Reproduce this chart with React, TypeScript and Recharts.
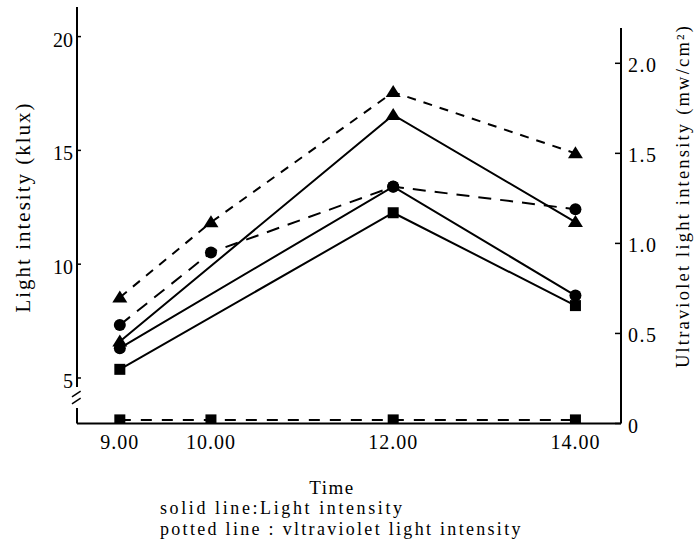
import React from 'react';
import { LineChart, Line, XAxis, YAxis, ReferenceLine } from 'recharts';

// Time categories (hours)
const times = [9, 10, 12, 14];
const timeLabels = ['9.00', '10.00', '12.00', '14.00'];
const lightTimes = [9, 12, 14];

// Light intensity (klux) — solid lines, left axis
const lightTriangle = [6.6, 16.56, 11.85];
const lightCircle = [6.31, 13.41, 8.62];
const lightSquare = [5.38, 12.26, 8.18];

// Ultraviolet light intensity (mw/cm2) — dashed lines, right axis
const uvTriangle = [0.7, 1.117, 1.84, 1.5];
const uvCircle = [0.547, 0.95, 1.315, 1.19];
const uvSquare = [0.02, 0.02, 0.02, 0.02];

const leftTicks = [5, 10, 15, 20];
const rightTicks = [0, 0.5, 1.0, 1.5, 2.0];
const rightTickLabels = ['0', '0.5', '1.0', '1.5', '2.0'];

const X_DOMAIN: [number, number] = [8.53, 14.5];
const LEFT_DOMAIN: [number, number] = [3, 21.3];
const RIGHT_DOMAIN: [number, number] = [0, 2.3126];

const FONT = '"Liberation Serif", "Times New Roman", serif';

const toData = (xs: number[], vs: number[]) => xs.map((t, i) => ({ t, v: vs[i] }));

const makeDot = (shape: 'triangle' | 'circle' | 'square') => (props: any) => {
  const { cx, cy, index } = props;
  if (cx == null || cy == null) return <g key={`n${index}`} />;
  if (shape === 'triangle') {
    return (
      <polygon
        key={`t${index}`}
        points={`${cx},${cy - 7} ${cx - 7.5},${cy + 5} ${cx + 7.5},${cy + 5}`}
        fill="#000"
      />
    );
  }
  if (shape === 'square') {
    return <rect key={`s${index}`} x={cx - 5.5} y={cy - 5.5} width={11} height={11} fill="#000" />;
  }
  return <circle key={`c${index}`} cx={cx} cy={cy} r={6} fill="#000" />;
};

const XTick = (props: any) => {
  const { x, y, payload } = props;
  const idx = times.indexOf(payload.value);
  return (
    <text x={x} y={y + 25} textAnchor="middle" fontFamily={FONT} fontSize={20} style={{ letterSpacing: '1px' }} fill="#000">
      {idx >= 0 ? timeLabels[idx] : payload.value}
    </text>
  );
};

const LeftTick = (props: any) => {
  const { x, y, payload } = props;
  return (
    <g>
      <line x1={x} y1={y} x2={x + 4} y2={y} stroke="#000" strokeWidth={1.5} />
      <text x={x - 4} y={y + 10} textAnchor="end" fontFamily={FONT} fontSize={20} fill="#000">
        {payload.value}
      </text>
    </g>
  );
};

const RightTick = (props: any) => {
  const { x, y, payload } = props;
  const idx = rightTicks.indexOf(payload.value);
  return (
    <g>
      <line x1={x - 6} y1={y} x2={x} y2={y} stroke="#000" strokeWidth={1.5} />
      <text x={x + 7} y={y + 9} textAnchor="start" fontFamily={FONT} fontSize={20} style={{ letterSpacing: '1.5px' }} fill="#000">
        {idx >= 0 ? rightTickLabels[idx] : payload.value}
      </text>
    </g>
  );
};

export default function App() {
  const lineProps = {
    type: 'linear' as const,
    dataKey: 'v',
    stroke: '#000',
    strokeWidth: 2,
    activeDot: false as const,
    isAnimationActive: false,
  };
  return (
    <div style={{ position: 'absolute', left: 0, top: 0, width: 694, height: 545, background: '#fff' }}>
      <LineChart width={694} height={545} margin={{ top: 7, right: 3, bottom: 91.5, left: 7 }}>
        <XAxis
          xAxisId={0}
          dataKey="t"
          type="number"
          domain={X_DOMAIN}
          ticks={times}
          allowDataOverflow
          tickLine={false}
          tickSize={0}
          tickMargin={0}
          height={30}
          axisLine={{ stroke: '#000', strokeWidth: 2 }}
          tick={<XTick />}
        />
        <YAxis
          yAxisId="left"
          orientation="left"
          type="number"
          domain={LEFT_DOMAIN}
          ticks={leftTicks}
          allowDataOverflow
          width={70}
          axisLine={false}
          tickLine={false}
          tickSize={0}
          tickMargin={0}
          tick={<LeftTick />}
        />
        <YAxis
          yAxisId="right"
          orientation="right"
          type="number"
          domain={RIGHT_DOMAIN}
          ticks={rightTicks}
          allowDataOverflow
          width={70}
          axisLine={false}
          tickLine={false}
          tickSize={0}
          tickMargin={0}
          tick={<RightTick />}
        />
        {/* Broken left axis */}
        <ReferenceLine
          yAxisId="left"
          ifOverflow="visible"
          stroke="#000"
          strokeWidth={2}
          segment={[{ x: 8.53, y: 21.3 }, { x: 8.53, y: 4.6 }]}
        />
        <ReferenceLine
          yAxisId="left"
          ifOverflow="visible"
          stroke="#000"
          strokeWidth={2}
          segment={[{ x: 8.53, y: 3.68 }, { x: 8.53, y: 3 }]}
        />
        <ReferenceLine
          yAxisId="left"
          ifOverflow="visible"
          stroke="#000"
          strokeWidth={1.5}
          segment={[{ x: 8.475, y: 4.17 }, { x: 8.57, y: 4.42 }]}
        />
        <ReferenceLine
          yAxisId="left"
          ifOverflow="visible"
          stroke="#000"
          strokeWidth={1.5}
          segment={[{ x: 8.475, y: 3.86 }, { x: 8.57, y: 4.11 }]}
        />
        {/* Right axis line */}
        <ReferenceLine
          yAxisId="right"
          ifOverflow="visible"
          stroke="#000"
          strokeWidth={2}
          segment={[{ x: 14.5, y: 0 }, { x: 14.5, y: 2.196 }]}
        />

        <Line {...lineProps} yAxisId="left" data={toData(lightTimes, lightTriangle)} dot={makeDot('triangle')} />
        <Line {...lineProps} yAxisId="left" data={toData(lightTimes, lightCircle)} dot={makeDot('circle')} />
        <Line {...lineProps} yAxisId="left" data={toData(lightTimes, lightSquare)} dot={makeDot('square')} />

        <Line {...lineProps} yAxisId="right" strokeDasharray="9 8" data={toData(times, uvTriangle)} dot={makeDot('triangle')} />
        <Line {...lineProps} yAxisId="right" strokeDasharray="13 9" data={toData(times, uvCircle)} dot={makeDot('circle')} />
        <Line {...lineProps} yAxisId="right" strokeDasharray="11 10" data={toData(times, uvSquare)} dot={makeDot('square')} />
      </LineChart>
      <svg
        width={694}
        height={545}
        style={{ position: 'absolute', left: 0, top: 0, pointerEvents: 'none' }}
      >
        <text
          x={23}
          y={207}
          transform="rotate(-90 23 207)"
          textAnchor="middle"
          dominantBaseline="central"
          fontFamily={FONT}
          fontSize={21}
          style={{ letterSpacing: '2px' }}
          fill="#000"
        >
          Light intesity (klux)
        </text>
        <text
          x={683}
          y={196}
          transform="rotate(-90 683 196)"
          textAnchor="middle"
          dominantBaseline="central"
          fontFamily={FONT}
          fontSize={18.5}
          style={{ letterSpacing: '2.2px' }}
          fill="#000"
        >
          Ultraviolet light intensity (mw/cm²)
        </text>
        <text x={332} y={494} textAnchor="middle" fontFamily={FONT} fontSize={19} style={{ letterSpacing: '1.5px' }} fill="#000">
          Time
        </text>
        <text x={160} y={514} textAnchor="start" fontFamily={FONT} fontSize={18} style={{ letterSpacing: '2.6px' }} fill="#000">
          solid line:Light intensity
        </text>
        <text x={160} y={535} textAnchor="start" fontFamily={FONT} fontSize={18} style={{ letterSpacing: '2.3px' }} fill="#000">
          potted line : vltraviolet light intensity
        </text>
      </svg>
    </div>
  );
}
